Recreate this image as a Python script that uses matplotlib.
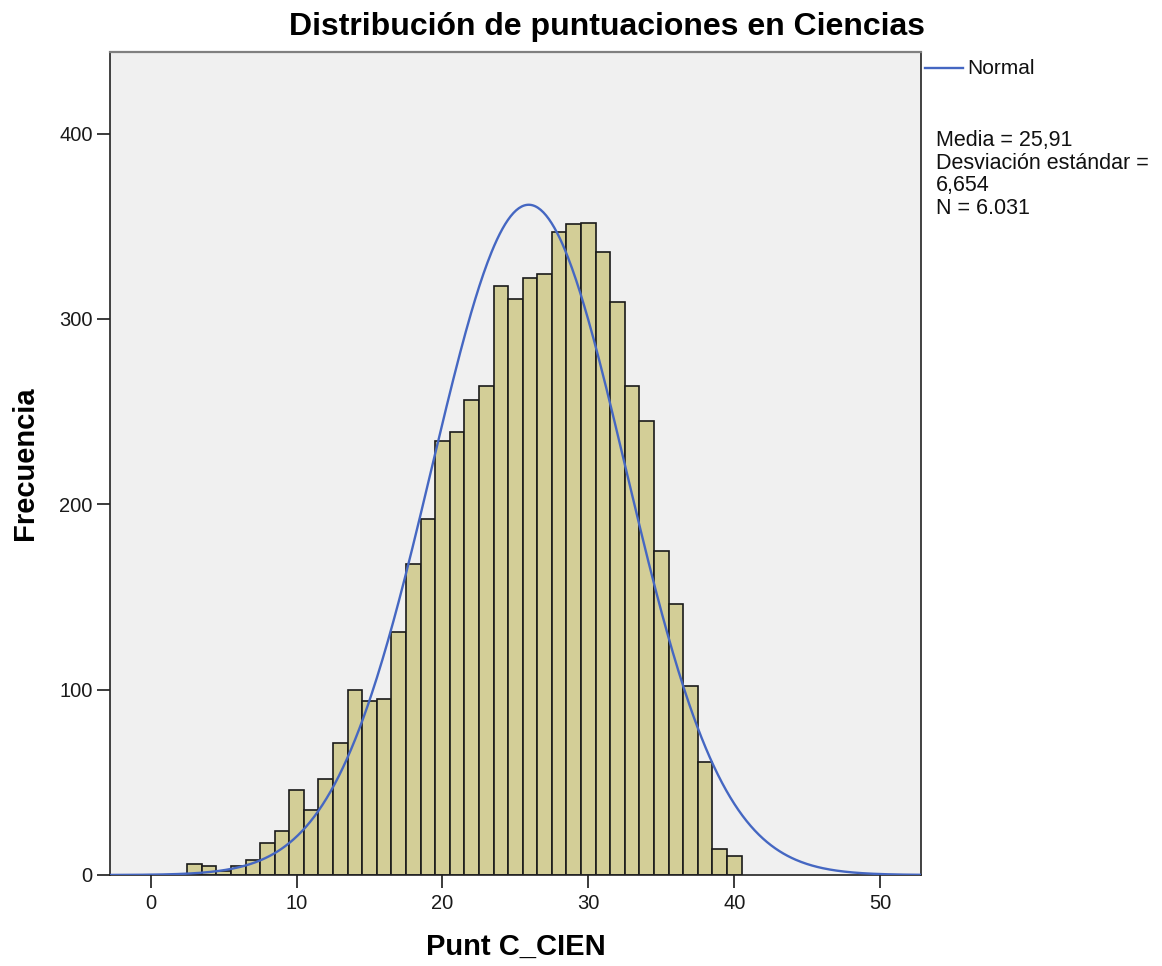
import numpy as np
import matplotlib
matplotlib.use("Agg")
import matplotlib.pyplot as plt
from matplotlib.lines import Line2D

plt.rcParams['font.family'] = ['Liberation Sans', 'DejaVu Sans']

# Data: score values (bin centres) and frequencies
scores = list(range(3, 41))
freqs = [6, 5, 2, 5, 8, 17, 24, 46, 35, 52, 71, 100, 94, 95, 131, 168, 192,
         234, 239, 256, 264, 318, 311, 322, 324, 347, 351, 352, 336, 309, 264,
         245, 175, 146, 102, 61, 14, 10]
mean = 25.91
sd = 6.654
n = 6031
title = "Distribución de puntuaciones en Ciencias"
xlabel = "Punt C_CIEN"
ylabel = "Frecuencia"
xticks = [0, 10, 20, 30, 40, 50]
yticks = [0, 100, 200, 300, 400]

W, H = 1162, 966
fig = plt.figure(figsize=(W / 100, H / 100), dpi=100)
ax = fig.add_axes([110 / W, (H - 875) / H, 811 / W, 823 / H])
ax.set_facecolor('#f0f0f0')

ax.bar(scores, freqs, width=1.0, color='#d3ce97', edgecolor='#1a1a1a',
       linewidth=1.2, zorder=2)

xs = np.linspace(-3, 53, 600)
ys = n * 1.0 / (sd * np.sqrt(2 * np.pi)) * np.exp(-0.5 * ((xs - mean) / sd) ** 2)
ax.plot(xs, ys, color='#4567c2', linewidth=1.7, zorder=3)

ax.set_xlim(-2.79, 52.8)
ax.set_ylim(0, 444)
ax.set_xticks(xticks)
ax.set_yticks(yticks)
ax.tick_params(axis='both', labelsize=14.5, colors='#1a1a1a', length=9.5,
               direction='out', width=1.2)
ax.tick_params(axis='y', pad=3)
ax.tick_params(axis='x', pad=4.5)
for s in ax.spines.values():
    s.set_color('#222222')
    s.set_linewidth(1.2)
ax.spines['top'].set_color('#808080')
ax.spines['top'].set_linewidth(1.6)

ax.set_xlabel(xlabel, fontsize=21, fontweight='bold')
ax.set_ylabel(ylabel, fontsize=21, fontweight='bold')
ax.xaxis.label.set_va('center')
ax.yaxis.label.set_va('center')
ax.xaxis.set_label_coords(0.5, (875 - 947) / 823)
ax.yaxis.set_label_coords((25 - 110) / 811, 0.5)

fig.text(607 / W, 1 - 27 / H, title, ha='center', va='center', fontsize=23,
         fontweight='bold')

# legend outside on right
fig.add_artist(Line2D([925 / W, 963 / W], [1 - 68 / H, 1 - 68 / H],
                      color='#4567c2', linewidth=1.7))
fig.text(967 / W, 1 - 68 / H, "Normal", fontsize=15, va='center',
         ha='left', color='#111111')
stats = "Media = 25,91\nDesviación estándar =\n6,654\nN = 6.031"
fig.text(936 / W, 1 - 130 / H, stats, fontsize=15.5, va='top', ha='left',
         linespacing=1.1, color='#111111')

fig.savefig("out.png", dpi=100)
